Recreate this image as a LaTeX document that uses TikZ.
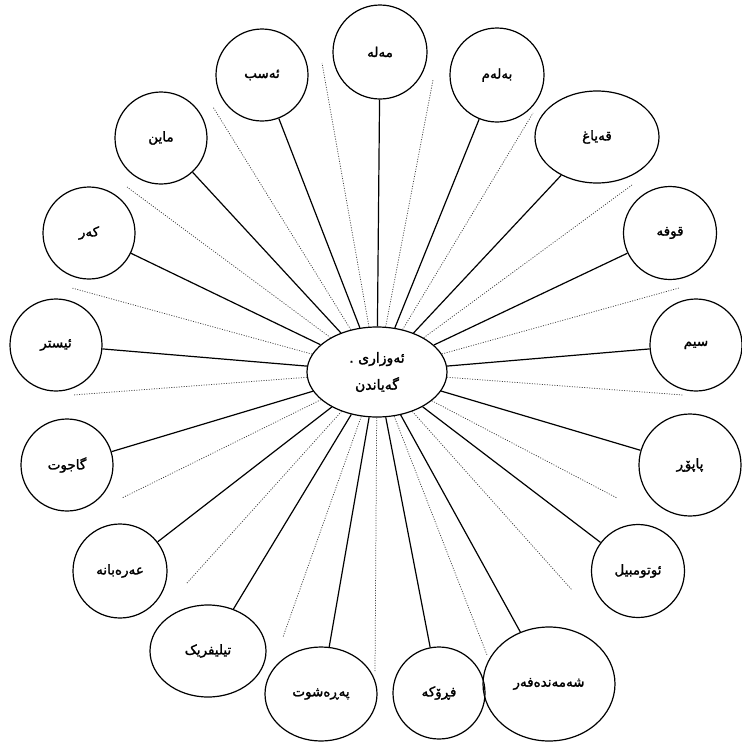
\documentclass[tikz,border=0pt]{standalone}
\usepackage{fontspec}
\usetikzlibrary{shapes.geometric}
\TeXXeTstate=1
\newfontfamily\kurd[Script=Arabic,FakeBold=1.6]{DejaVu Sans}
\begin{document}
\begin{tikzpicture}[x=1pt,y=-1pt,
  lbl/.style={font=\kurd\fontsize{13.5}{15}\selectfont, inner sep=0pt},
  circ/.style={lbl, draw, line width=1.2pt, circle, minimum size=#1},
  ovl/.style 2 args={lbl, draw, line width=1.2pt, ellipse, minimum width=#1, minimum height=#2},
  spoke/.style={line width=1.2pt},
  dots/.style={line width=0.75pt, black!75, dash pattern=on 1pt off 1.5pt}]
\fill[white] (0,0) rectangle (742,742);
\useasboundingbox (0,0) rectangle (742,742);

\node[ovl={140}{90}, align=center, font=\kurd\fontsize{14}{27}\selectfont] (c) at (377,372)
  {\beginR ئەوزاری .\endR\\\beginR گەیاندن\endR};

\node[circ=94] (n1) at (380,52) {\beginR مەلە\endR};
\node[circ=94] (n2) at (497,75) {\beginR بەلەم\endR};
\node[ovl={124}{92}] (n3) at (597,137) {\beginR قەیاغ\endR};
\node[circ=93] (n4) at (670,233) {\beginR قوفە\endR};
\node[circ=92] (n5) at (696,345) {\beginR سیم\endR};
\node[circ=102] (n6) at (690,465) {\beginR پاپۆڕ\endR};
\node[circ=93] (n7) at (638,571) {\beginR ئوتومبیل\endR};
\node[ovl={132}{114}] (n8) at (549,684) {\beginR شەمەندەفەر\endR};
\node[circ=92] (n9) at (439,693) {\beginR فڕۆکە\endR};
\node[ovl={112}{94}] (n10) at (321,694) {\beginR پەڕەشوت\endR};
\node[ovl={116}{92}] (n11) at (208,651) {\beginR تیلیفریک\endR};
\node[circ=94] (n12) at (120,571) {\beginR عەرەبانە\endR};
\node[circ=92] (n13) at (67,465) {\beginR گاجوت\endR};
\node[circ=92] (n14) at (56,345) {\beginR ئیستر\endR};
\node[circ=92] (n15) at (89,233) {\beginR کەر\endR};
\node[circ=92] (n16) at (161,138) {\beginR ماین\endR};
\node[circ=92] (n17) at (262,75) {\beginR ئەسب\endR};

\foreach \i in {1,...,17} { \draw[spoke] (c) -- (n\i); }

\coordinate (d1) at (322,63);
\coordinate (d2) at (433,80);
\coordinate (d3) at (533,113);
\coordinate (d4) at (632,185);
\coordinate (d5) at (679,288);
\coordinate (d6) at (683,395);
\coordinate (d7) at (617,498);
\coordinate (d8) at (572,590);
\coordinate (d9) at (487,655);
\coordinate (d10) at (375,672);
\coordinate (d11) at (283,637);
\coordinate (d12) at (187,583);
\coordinate (d13) at (122,498);
\coordinate (d14) at (73,395);
\coordinate (d15) at (72,288);
\coordinate (d16) at (127,187);
\coordinate (d17) at (213,107);
\foreach \i in {1,...,17} { \draw[dots] (c) -- (d\i); }
\end{tikzpicture}
\end{document}
